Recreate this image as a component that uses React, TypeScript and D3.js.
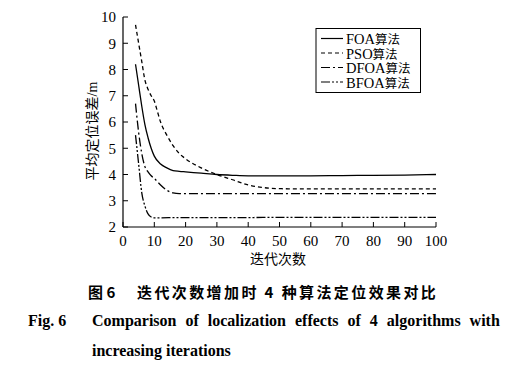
import React from 'react';
import * as d3 from 'd3';

const foaX = [4, 5, 6, 7, 8, 9, 10, 12, 14, 16, 18, 20, 25, 30, 35, 40, 50, 60, 70, 80, 90, 100];
const foaY = [8.2, 7.4, 6.6, 5.9, 5.4, 5.0, 4.7, 4.4, 4.25, 4.15, 4.12, 4.1, 4.05, 4.0, 3.97, 3.95, 3.95, 3.95, 3.96, 3.97, 3.98, 4.0];

const psoX = [4, 5, 6, 7, 8, 9, 10, 11, 12, 14, 16, 18, 20, 25, 30, 35, 40, 45, 50, 60, 70, 80, 90, 100];
const psoY = [9.7, 9.0, 8.3, 7.6, 7.25, 7.0, 6.8, 6.4, 6.0, 5.5, 5.1, 4.8, 4.6, 4.25, 4.0, 3.8, 3.6, 3.5, 3.46, 3.45, 3.45, 3.45, 3.45, 3.45];

const dfoaX = [4, 5, 6, 7, 8, 9, 10, 12, 14, 16, 18, 20, 30, 40, 50, 60, 70, 80, 90, 100];
const dfoaY = [6.7, 5.6, 4.8, 4.3, 4.1, 3.95, 3.85, 3.6, 3.4, 3.3, 3.27, 3.27, 3.27, 3.27, 3.27, 3.27, 3.27, 3.27, 3.27, 3.27];

const bfoaX = [4, 5, 6, 7, 8, 9, 10, 20, 30, 40, 50, 60, 70, 80, 90, 100];
const bfoaY = [5.5, 4.4, 3.3, 2.8, 2.5, 2.38, 2.35, 2.36, 2.36, 2.36, 2.37, 2.37, 2.37, 2.37, 2.37, 2.37];

const seriesCodes = ['FOA', 'PSO', 'DFOA', 'BFOA'];
const seriesSuffix = '算法';
const dashes = ['', '4,3', '9,3,2,3', '9,2,2,2,2,2'];

const xTicks = [0, 10, 20, 30, 40, 50, 60, 70, 80, 90, 100];
const yTicks = [2, 3, 4, 5, 6, 7, 8, 9, 10];

const serif = '"Liberation Serif", "Times New Roman", "Noto Sans CJK SC", serif';

export default function App() {
  const x = d3.scaleLinear().domain([0, 100]).range([123, 436]);
  const y = d3.scaleLinear().domain([2, 10]).range([227, 17]);

  const series = [
    foaX.map((v, i) => [v, foaY[i]] as [number, number]),
    psoX.map((v, i) => [v, psoY[i]] as [number, number]),
    dfoaX.map((v, i) => [v, dfoaY[i]] as [number, number]),
    bfoaX.map((v, i) => [v, bfoaY[i]] as [number, number]),
  ];

  const line = d3.line<[number, number]>()
    .x((d) => x(d[0]))
    .y((d) => y(d[1]))
    .curve(d3.curveMonotoneX);

  // legend row positions
  const legendY = d3.scalePoint<string>().domain(seriesCodes).range([38.5, 82]);

  return (
    <svg width={518} height={368} style={{ position: 'absolute', left: 0, top: 0, background: '#fff' }}>
      <rect width={518} height={368} fill="#fff" />
      {/* axes */}
      <line x1={x(0)} x2={x(0)} y1={y(10)} y2={y(2)} stroke="#000" strokeWidth={1.2} />
      <line x1={x(0)} x2={x(100)} y1={y(2)} y2={y(2)} stroke="#000" strokeWidth={1.2} />
      {yTicks.map((t) => (
        <g key={'y' + t}>
          <line x1={x(0)} x2={x(0) + 5} y1={y(t)} y2={y(t)} stroke="#000" strokeWidth={1} />
          <text x={x(0) - 7} y={y(t)} dy="0.35em" textAnchor="end" fontFamily={serif} fontSize={15}>{t}</text>
        </g>
      ))}
      {xTicks.map((t) => (
        <g key={'x' + t}>
          <line x1={x(t)} x2={x(t)} y1={y(2)} y2={y(2) - 5} stroke="#000" strokeWidth={1} />
          <text x={x(t)} y={y(2) + 19} textAnchor="middle" fontFamily={serif} fontSize={15}>{t}</text>
        </g>
      ))}
      <text x={278} y={264} textAnchor="middle" fontFamily={serif} fontSize={14}>迭代次数</text>
      <text transform={`translate(97,131) rotate(-90)`} textAnchor="middle" fontFamily={serif} fontSize={14}>平均定位误差/m</text>

      {/* lines */}
      {series.map((s, i) => (
        <path key={i} d={line(s) || ''} fill="none" stroke="#000" strokeWidth={1.3} strokeDasharray={dashes[i]} />
      ))}

      {/* legend */}
      <rect x={316} y={28.5} width={104.5} height={64} fill="#fff" stroke="#000" strokeWidth={1} />
      {seriesCodes.map((n, i) => (
        <g key={n}>
          <line x1={321} x2={343} y1={legendY(n)} y2={legendY(n)} stroke="#000" strokeWidth={1.2} strokeDasharray={dashes[i]} />
          <text x={346} y={legendY(n)} dy="0.35em" fontFamily={serif}>
            <tspan fontSize={14.5}>{n}</tspan>
            <tspan fontSize={12.5}>{seriesSuffix}</tspan>
          </text>
        </g>
      ))}

      {/* caption */}
      <text x={88} y={298} fontFamily='"Noto Sans CJK SC", sans-serif' fontWeight="bold" fontSize={15}>
        <tspan>图 6</tspan>
        <tspan x={137} letterSpacing={2.4}>迭代次数增加时 4 种算法定位效果对比</tspan>
      </text>
      <text x={28} y={326} fontFamily={serif} fontWeight="bold" fontSize={16}>
        <tspan>Fig. 6</tspan>
        <tspan x={92} wordSpacing={5}>Comparison of localization effects of 4 algorithms with</tspan>
      </text>
      <text x={92} y={356} fontFamily={serif} fontWeight="bold" fontSize={16}>increasing iterations</text>
    </svg>
  );
}
